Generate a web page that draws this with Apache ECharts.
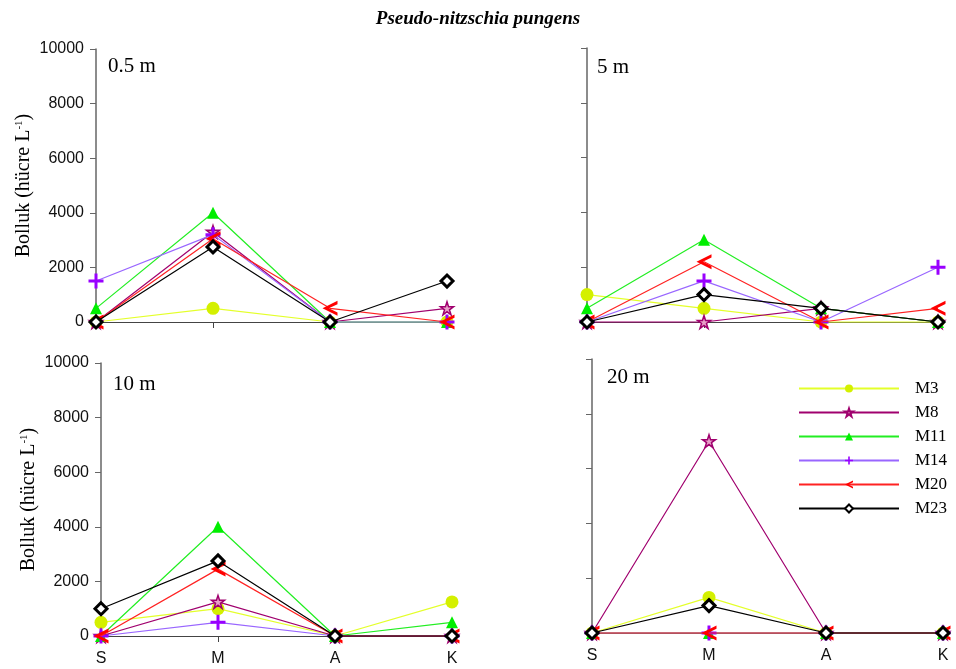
<!DOCTYPE html>
<html>
<head>
<meta charset="utf-8">
<script src="https://cdn.jsdelivr.net/npm/echarts@6/dist/echarts.min.js"></script>
<style>
  html, body { margin: 0; padding: 0; background: #fff; }
  #chart { width: 956px; height: 669px; }
</style>
</head>
<body>
<div id="chart"></div>
<script>
// Sampling periods on the x axis
const categories = ['S', 'M', 'A', 'K'];
// Stations
const stationNames = ['M3', 'M8', 'M11', 'M14', 'M20', 'M23'];
// Depth panels
const depthLabels = ['0.5 m', '5 m', '10 m', '20 m'];
// Y axis ticks
const yTicks = [0, 2000, 4000, 6000, 8000, 10000];

// Abundance (cells per litre), one row per station in stationNames order
const depth0_5m = [
  [0, 500, 0, 0],        // M3
  [0, 3300, 0, 500],     // M8
  [500, 4000, 0, 0],     // M11
  [1500, 3200, 0, 0],    // M14
  [0, 3050, 500, 0],     // M20
  [0, 2750, 0, 1500]     // M23
];
const depth5m = [
  [1000, 500, 0, 0],
  [0, 0, 500, 0],
  [500, 3000, 500, 0],
  [0, 1500, 0, 2000],
  [0, 2200, 0, 500],
  [0, 1000, 500, 0]
];
const depth10m = [
  [500, 1000, 0, 1250],
  [0, 1250, 0, 0],
  [0, 4000, 0, 500],
  [0, 500, 0, 0],
  [0, 2450, 0, 0],
  [1000, 2750, 0, 0]
];
const depth20m = [
  [0, 1300, 0, 0],
  [0, 7000, 0, 0],
  [0, 0, 0, 0],
  [0, 0, 0, 0],
  [0, 0, 0, 0],
  [0, 1000, 0, 0]
];
const panelData = [depth0_5m, depth5m, depth10m, depth20m];

// Marker and line styles per station
const styles = [
  { line: '#e4ff2a', symbol: 'circle', size: 13, fill: '#d4f000', border: '#d4f000', bw: 0 },
  { line: '#a0006e', symbol: 'path://M5,0 L6.2,3.6 L10,3.6 L6.9,5.8 L8.1,9.5 L5,7.2 L1.9,9.5 L3.1,5.8 L0,3.6 L3.8,3.6 Z', size: 13, fill: '#e8a0c8', border: '#a0006e', bw: 1.5 },
  { line: '#22ee22', symbol: 'triangle', size: 12, fill: '#00ee00', border: '#00ee00', bw: 0 },
  { line: '#9966ff', symbol: 'path://M4,0H6V4H10V6H6V10H4V6H0V4H4Z', size: 15, fill: '#9900ff', border: '#9900ff', bw: 0 },
  { line: '#ff2222', symbol: 'path://M10,0 L0,5 L10,10 L10,7.8 L4.2,5 L10,2.2 Z', size: 15, fill: '#ff0000', border: '#ff0000', bw: 0 },
  { line: '#000000', symbol: 'diamond', size: 12, fill: '#ffffff', border: '#000000', bw: 3 }
];

// Plot areas: top-left, top-right, bottom-left, bottom-right
const grids = [
  { left: 96, top: 49, width: 351, height: 273 },
  { left: 587, top: 48, width: 351, height: 274 },
  { left: 101, top: 363, width: 351, height: 273 },
  { left: 592, top: 359, width: 351, height: 274 }
];

const axisColor = '#666666';
const sansFont = '"Liberation Sans", Arial, sans-serif';
const serifFont = '"Liberation Serif", "Times New Roman", serif';

const xAxes = grids.map((g, i) => ({
  type: 'category',
  gridIndex: i,
  data: categories,
  boundaryGap: false,
  axisLine: { show: true, lineStyle: { color: '#444', width: 1.2 } },
  axisTick: { show: true, length: 6, lineStyle: { color: '#444' } },
  axisLabel: { show: i >= 2, color: '#111', fontFamily: sansFont, fontSize: 16, margin: 15 },
  splitLine: { show: false }
}));

const yAxes = grids.map((g, i) => ({
  type: 'value',
  gridIndex: i,
  min: yTicks[0],
  max: yTicks[yTicks.length - 1],
  interval: yTicks[1] - yTicks[0],
  axisLine: { show: true, lineStyle: { color: axisColor, width: 1.5 } },
  axisTick: { show: true, length: 6, lineStyle: { color: axisColor } },
  axisLabel: {
    show: i % 2 === 0, color: '#111', fontFamily: sansFont, fontSize: 16, margin: 12,
    formatter: v => String(v)
  },
  splitLine: { show: false },
  name: i % 2 === 0 ? 'Bolluk (hücre L{sup|-1})' : '',
  nameLocation: 'middle',
  nameGap: 62,
  nameTextStyle: {
    fontFamily: serifFont, fontSize: 20, color: '#000',
    rich: { sup: { fontFamily: serifFont, fontSize: 11, verticalAlign: 'top', padding: [0, 0, 9, 0] } }
  }
}));

const series = [];
panelData.forEach((rows, p) => {
  rows.forEach((vals, s) => {
    const st = styles[s];
    series.push({
      name: stationNames[s],
      type: 'line',
      xAxisIndex: p,
      yAxisIndex: p,
      data: vals,
      symbol: st.symbol,
      symbolSize: st.size,
      showAllSymbol: true,
      clip: false,
      lineStyle: { color: st.line, width: 1.2 },
      itemStyle: { color: st.fill, borderColor: st.border, borderWidth: st.bw },
      emphasis: { disabled: true },
      z: 2 + s
    });
  });
});

const panelLabelPos = [
  { left: 108, top: 56 },
  { left: 597, top: 57 },
  { left: 113, top: 374 },
  { left: 607, top: 367 }
];

const option = {
  animation: false,
  backgroundColor: '#ffffff',
  title: {
    text: 'Pseudo-nitzschia pungens',
    left: 'center',
    top: 5,
    textStyle: { fontFamily: serifFont, fontStyle: 'italic', fontWeight: 'bold', fontSize: 19, color: '#000' }
  },
  legend: {
    data: stationNames,
    orient: 'vertical',
    left: 798,
    top: 380,
    padding: 0,
    itemWidth: 100,
    itemHeight: 10,
    itemGap: 7,
    textStyle: { fontFamily: serifFont, fontSize: 17, color: '#000', padding: [0, 0, 0, 11] },
    selectedMode: false
  },
  grid: grids,
  xAxis: xAxes,
  yAxis: yAxes,
  series: series,
  graphic: depthLabels.map((t, i) => ({
    type: 'text',
    left: panelLabelPos[i].left,
    top: panelLabelPos[i].top,
    style: { text: t, font: '21px ' + serifFont, fill: '#000' }
  }))
};

const chart = echarts.init(document.getElementById('chart'), null, { renderer: 'canvas' });
chart.setOption(option);
</script>
</body>
</html>
